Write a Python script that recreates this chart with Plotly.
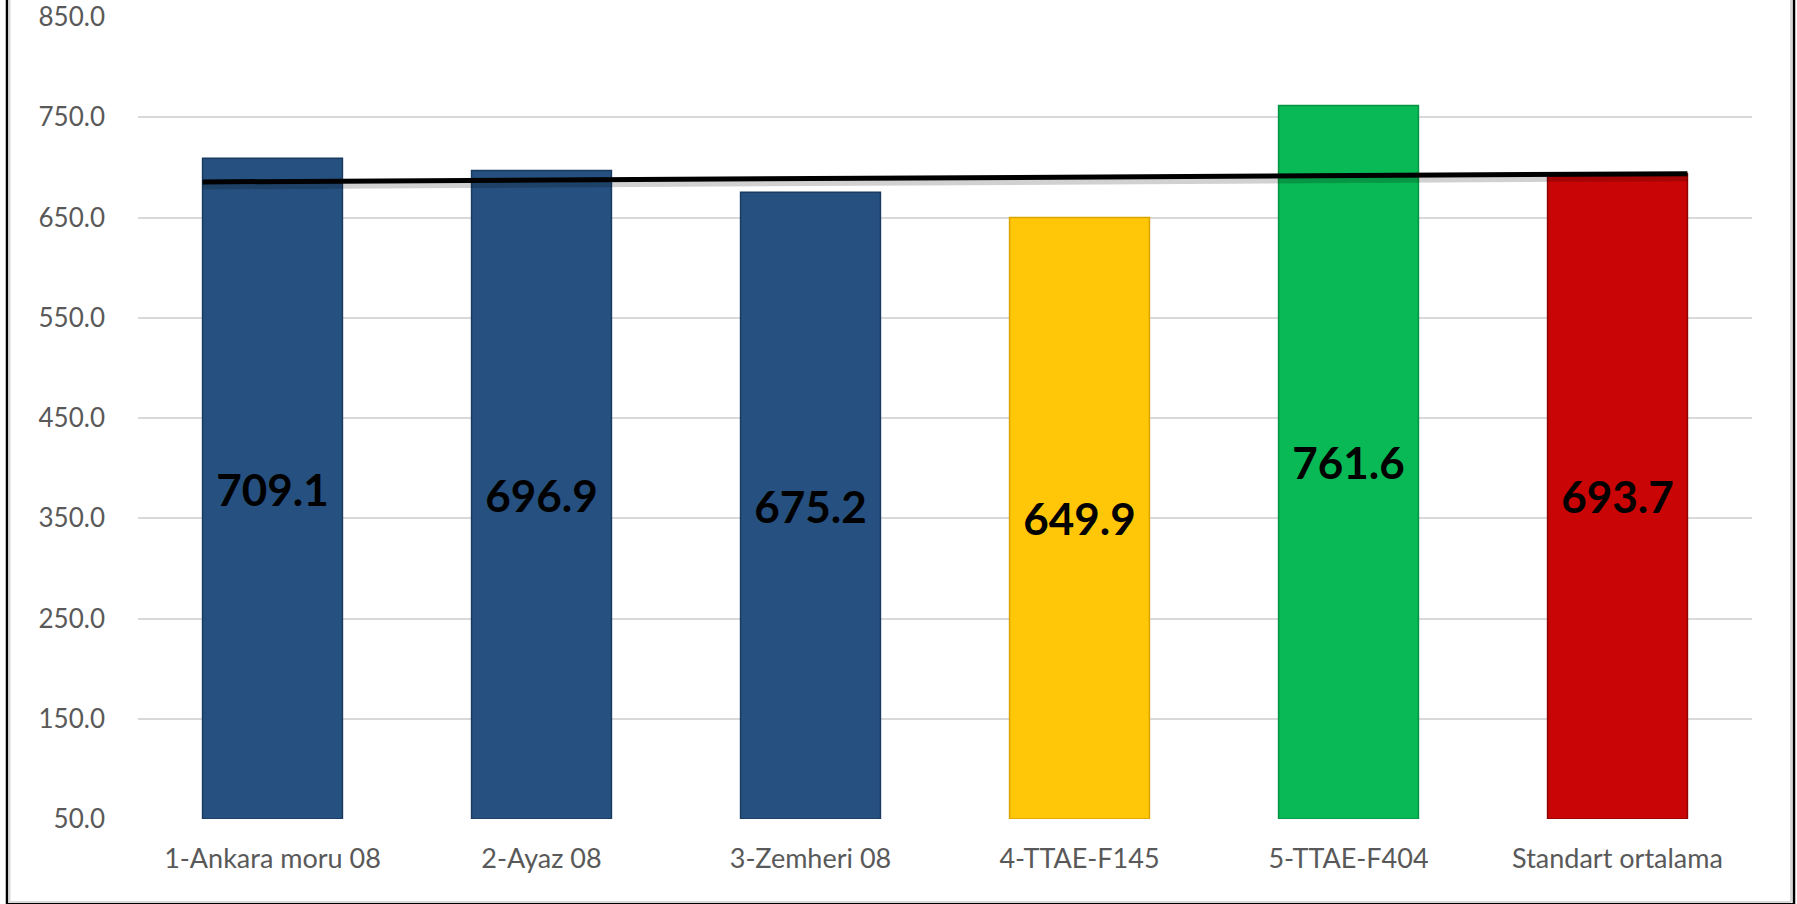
import plotly.graph_objects as go

# ---- data ----
categories = ["1-Ankara moru 08", "2-Ayaz 08", "3-Zemheri 08", "4-TTAE-F145", "5-TTAE-F404", "Standart ortalama"]
values = [709.1, 696.9, 675.2, 649.9, 761.6, 693.7]
bar_colors = ["#25507F", "#25507F", "#25507F", "#FFC708", "#08B955", "#C90505"]
edge_colors = ["#1A3A60", "#1A3A60", "#1A3A60", "#D9A400", "#059443", "#8E0303"]
line_x = [-0.26, 5.26]          # from left edge of first bar to right edge of last bar
line_y = [685.5, 693.7]
y_min, y_max, y_step = 50, 850, 100
tick_vals = list(range(y_min, y_max + 1, y_step))
tick_text = [f"{v:.1f}" for v in tick_vals]

# ---- layout geometry (pixels) ----
W, H = 1797, 904
L, R, T, B = 138, 45, 17, 85
pw = W - L - R
ph = H - T - B

def px_x(p):
    return (p - L) / pw

def px_y(p):
    return (H - B - p) / ph

fig = go.Figure()

fig.add_trace(go.Bar(
    x=categories,
    y=[v - y_min for v in values],
    base=y_min,
    marker=dict(color=bar_colors, line=dict(color=edge_colors, width=1.5)),
    text=[f"{v:.1f}" for v in values],
    textposition="inside",
    insidetextanchor="middle",
    constraintext="none",
    textangle=0,
    textfont=dict(family="Lato", size=44, color="black", weight="bold"),
    width=0.52,
    hoverinfo="skip",
    showlegend=False,
))

# shadow of the line
fig.add_trace(go.Scatter(
    x=line_x, y=[v - 3.5 for v in line_y], xaxis="x2", mode="lines",
    line=dict(color="rgba(0,0,0,0.18)", width=8),
    hoverinfo="skip", showlegend=False,
))
fig.add_trace(go.Scatter(
    x=line_x, y=line_y, xaxis="x2", mode="lines",
    line=dict(color="black", width=5),
    hoverinfo="skip", showlegend=False,
))

fig.update_layout(
    width=W, height=H, autosize=False,
    margin=dict(l=L, r=R, t=T, b=B, pad=0, autoexpand=False),
    paper_bgcolor="white", plot_bgcolor="white",
    font=dict(family="Lato", color="#595959", size=26),
    xaxis=dict(
        type="category", range=[-0.5, 5.5], automargin=False,
        showgrid=False, showline=False, zeroline=False,
        ticks="", ticklabelstandoff=21,
        tickfont=dict(family="Lato", size=27, color="#595959"),
    ),
    xaxis2=dict(
        overlaying="x", range=[-0.5, 5.5], visible=False,
    ),
    yaxis=dict(
        range=[y_min, y_max], automargin=False,
        tickmode="array", tickvals=tick_vals, ticktext=tick_text,
        showgrid=True, gridcolor="#D9D9D9", gridwidth=2,
        zeroline=False, showline=False, ticks="",
        ticklabelstandoff=32,
        tickfont=dict(family="Lato", size=26, color="#595959"),
    ),
    shapes=[
        # outer frame (black) and inner grey edge
        dict(type="line", xref="paper", yref="paper",
             x0=px_x(7), x1=px_x(7), y0=px_y(-5), y1=px_y(H + 5),
             line=dict(color="black", width=2.5), layer="above"),
        dict(type="line", xref="paper", yref="paper",
             x0=px_x(9.5), x1=px_x(9.5), y0=px_y(0), y1=px_y(902),
             line=dict(color="#D9D9D9", width=2), layer="above"),
        dict(type="line", xref="paper", yref="paper",
             x0=px_x(1794), x1=px_x(1794), y0=px_y(-5), y1=px_y(H + 5),
             line=dict(color="black", width=2.5), layer="above"),
        dict(type="line", xref="paper", yref="paper",
             x0=px_x(1791), x1=px_x(1791), y0=px_y(0), y1=px_y(902),
             line=dict(color="#D9D9D9", width=2), layer="above"),
        dict(type="line", xref="paper", yref="paper",
             x0=px_x(9.5), x1=px_x(1791), y0=px_y(902), y1=px_y(902),
             line=dict(color="#D9D9D9", width=2), layer="above"),
        dict(type="line", xref="paper", yref="paper",
             x0=px_x(7), x1=px_x(1794), y0=px_y(904), y1=px_y(904),
             line=dict(color="black", width=2), layer="above"),
    ],
)

fig.write_html(
    "out.html",
    config={"displayModeBar": False},
    post_script="document.body.style.margin='0';document.body.style.overflow='hidden';",
)
